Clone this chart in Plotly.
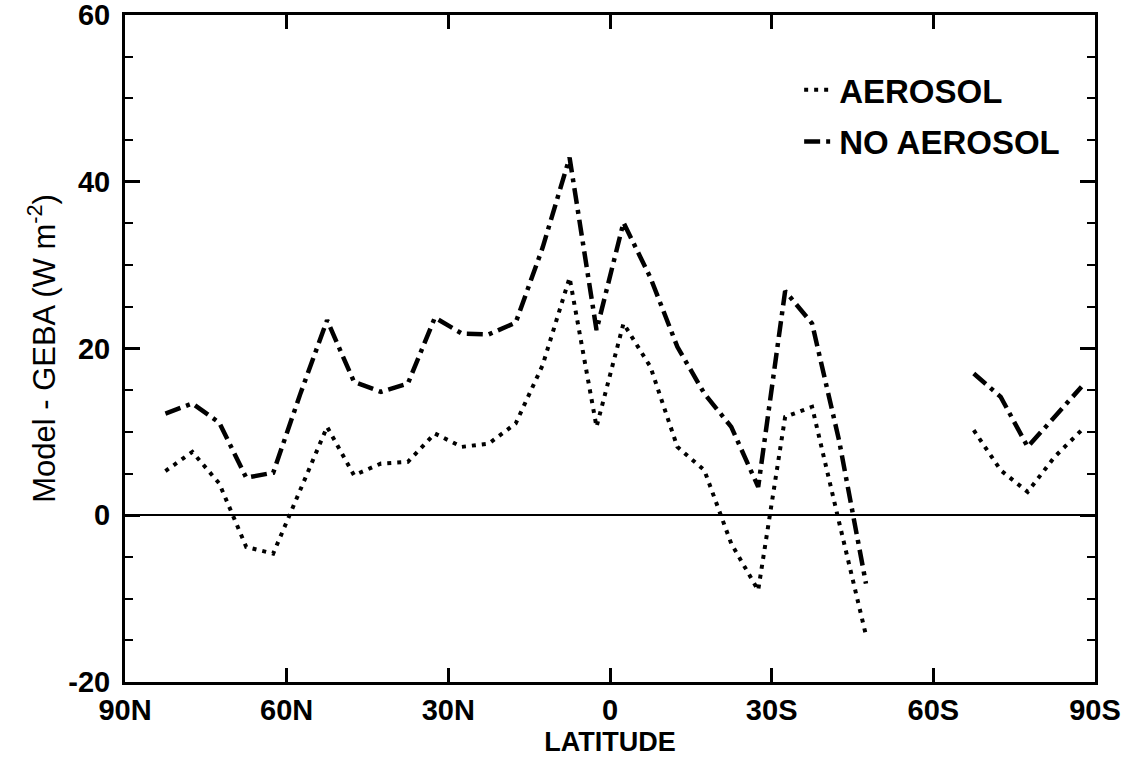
import plotly.graph_objects as go

# Latitude bin centres (positive = North, negative = South)
latitude = [82.5, 77.5, 72.5, 67.5, 62.5, 57.5, 52.5, 47.5, 42.5, 37.5,
            32.5, 27.5, 22.5, 17.5, 12.5, 7.5, 2.5, -2.5, -7.5, -12.5,
            -17.5, -22.5, -27.5, -32.5, -37.5, -42.5, -47.5, -52.5, -57.5, -62.5,
            -67.5, -72.5, -77.5, -82.5, -87.5]

aerosol = [5.3, 7.6, 3.8, -3.8, -4.6, 3.0, 10.6, 4.8, 6.2, 6.4,
           9.8, 8.2, 8.6, 11.0, 18.0, 28.5, 10.6, 23.0, 17.8, 8.2,
           5.4, -3.4, -9.0, 11.8, 13.0, -0.8, -14.4, None, None, None,
           10.2, 5.4, 2.8, 7.0, 10.2]

no_aerosol = [12.2, 13.4, 11.1, 4.5, 5.1, 14.5, 23.4, 16.0, 14.8, 15.8,
              23.7, 21.8, 21.7, 23.1, 32.1, 42.9, 22.2, 35.1, 28.5, 20.2,
              14.6, 10.6, 3.4, 26.9, 23.0, 9.0, -8.2, None, None, None,
              17.0, 14.2, 8.2, 11.8, 15.4]

x_tick_vals = [90, 60, 30, 0, -30, -60, -90]
x_tick_text = ["90N", "60N", "30N", "0", "30S", "60S", "90S"]
y_tick_vals = [-20, 0, 20, 40, 60]
y_tick_text = ["-20", "0", "20", "40", "60"]

FONT = "Liberation Sans, Arial, sans-serif"

fig = go.Figure()
fig.add_trace(go.Scatter(
    x=latitude, y=aerosol, mode="lines", name="AEROSOL",
    legendgroup="a",
    line=dict(color="black", width=4, dash="4px,6px"),
    connectgaps=False,
))
fig.add_trace(go.Scatter(
    x=latitude, y=no_aerosol, mode="lines", name="NO AEROSOL",
    legendgroup="b",
    line=dict(color="black", width=4.5, dash="16px,6px,4px,6px"),
    connectgaps=False,
))

fig.update_layout(
    width=1126, height=757,
    margin=dict(l=125, r=31, t=15, b=75, autoexpand=False),
    paper_bgcolor="white", plot_bgcolor="white",
    font=dict(family=FONT, color="black"),
    showlegend=True,
    legend=dict(
        x=0.695, y=0.93, xanchor="left", yanchor="top",
        bgcolor="rgba(0,0,0,0)", borderwidth=0,
        font=dict(size=33, family=FONT, color="black", weight="bold"),
        tracegroupgap=6,
    ),
    xaxis=dict(
        range=[90, -90], automargin=False,
        tickmode="array", tickvals=x_tick_vals, ticktext=x_tick_text,
        ticks="inside", ticklen=14, tickwidth=2.5, tickcolor="black",
        showline=True, linewidth=3, linecolor="black", mirror="ticks",
        showgrid=False, zeroline=False,
        ticklabeloverflow="allow",
        tickfont=dict(size=29, family=FONT, color="black", weight="bold"),
        title=dict(text="LATITUDE",
                   font=dict(size=27, family=FONT, color="black", weight="bold"),
                   standoff=9),
    ),
    yaxis=dict(
        range=[-20, 60], automargin=False,
        tickmode="array", tickvals=y_tick_vals, ticktext=y_tick_text,
        ticks="inside", ticklen=15, tickwidth=2.5, tickcolor="black",
        minor=dict(tickmode="linear", tick0=-20, dtick=5, ticks="inside",
                   ticklen=8, tickwidth=2, tickcolor="black"),
        showline=True, linewidth=3, linecolor="black", mirror="ticks",
        showgrid=False,
        zeroline=True, zerolinecolor="black", zerolinewidth=2,
        ticklabeloverflow="allow",
        tickfont=dict(size=29, family=FONT, color="black", weight="bold"),
        ticklabelstandoff=6,
        title=dict(text="Model - GEBA (W m<sup>-2</sup>)",
                   font=dict(size=31, family=FONT, color="black"), standoff=4),
    ),
)

fig.write_html("out.html")
